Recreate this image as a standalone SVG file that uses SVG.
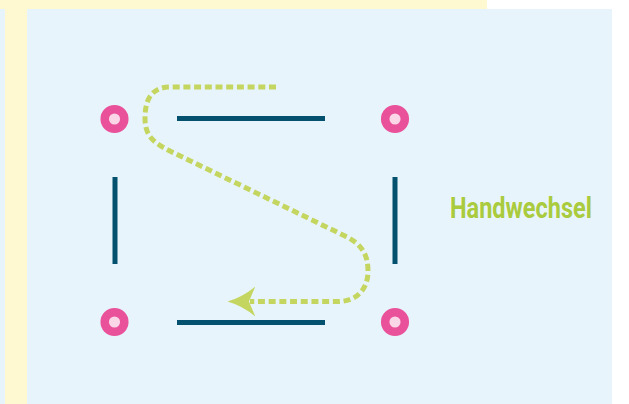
<svg xmlns="http://www.w3.org/2000/svg" width="629" height="404" viewBox="0 0 629 404">
  <style>
    .post { fill: #fad6e7; stroke: #e9529a; stroke-width: 8.5; }
    .edge { stroke: #03506f; stroke-width: 5; fill: none; }
    .route { stroke: #c4d660; stroke-width: 5; fill: none; stroke-dasharray: 7 3.7; }
    .label { font-family: Roboto, "Liberation Sans", sans-serif; font-weight: 700; font-size: 29px; fill: #a9cb3d; }
  </style>
  <defs>
    <marker id="arrow" markerUnits="userSpaceOnUse" markerWidth="30" markerHeight="30" viewBox="0 0 27 28" refX="5" refY="14" orient="auto">
      <path d="M0,0 Q12,10 26,14 Q12,18 0,28 L6,14 Z" fill="#c4d660"/>
    </marker>
  </defs>
  <rect x="0" y="0" width="629" height="404" fill="#ffffff"/>
  <rect x="0" y="9" width="612" height="395" fill="#e8f4fc"/>
  <rect x="0" y="0" width="487" height="9" fill="#fff9d2"/>
  <rect x="5" y="0" width="22" height="404" fill="#fff9d2"/>

  <g id="connectors">
    <line class="edge" x1="177" y1="118.5" x2="325" y2="118.5"/>
    <line class="edge" x1="177" y1="322.5" x2="325" y2="322.5"/>
    <line class="edge" x1="115" y1="177" x2="115" y2="264"/>
    <line class="edge" x1="395" y1="177" x2="395" y2="264"/>
    <path class="route" marker-end="url(#arrow)" d="M276,87 H170 C150,87 145,102 145,118 C145,135 152,142 170,151 L345,236 C362,244 368,255 368,271 C368,290 356,301.5 338,301.5 H250"/>
  </g>

  <g id="post-tl"><circle class="post" cx="114.5" cy="119" r="9.8"/></g>
  <g id="post-tr"><circle class="post" cx="395" cy="119" r="9.8"/></g>
  <g id="post-bl"><circle class="post" cx="114.5" cy="322" r="9.8"/></g>
  <g id="post-br"><circle class="post" cx="395" cy="322" r="9.8"/></g>

  <g id="label-handwechsel">
    <text class="label" x="450" y="218" textLength="142" lengthAdjust="spacingAndGlyphs">Handwechsel</text>
  </g>
</svg>
